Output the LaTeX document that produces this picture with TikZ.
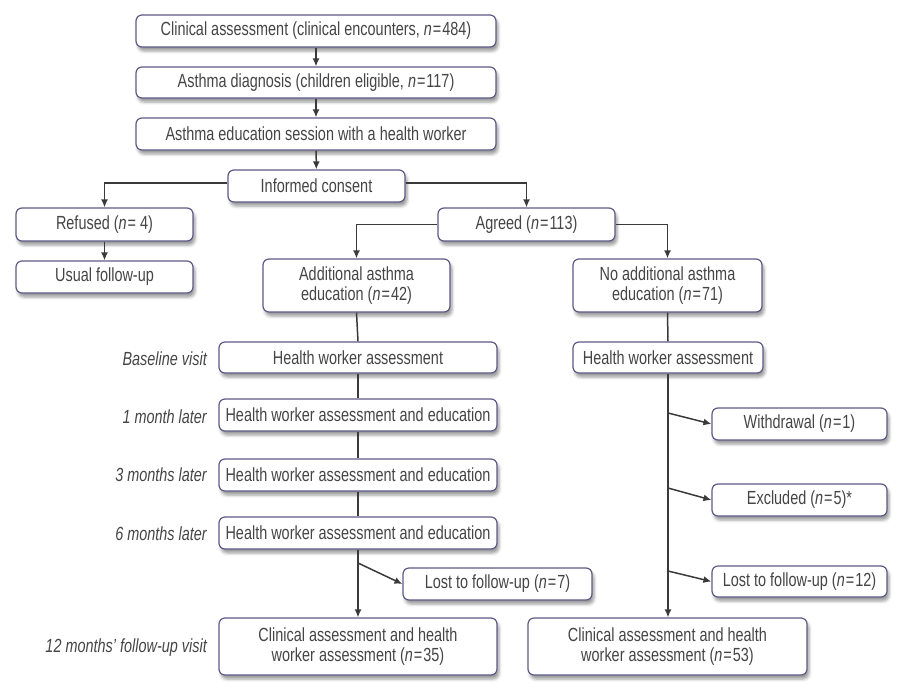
\documentclass[tikz,border=0pt]{standalone}
\usepackage{fontspec}
\setmainfont[FakeStretch=0.76]{Liberation Sans}
\usetikzlibrary{arrows.meta,shadows.blur}
\definecolor{boxline}{HTML}{5D5A88}
\definecolor{txt}{HTML}{454545}
\definecolor{conn}{HTML}{3A3A3A}
\newcommand{\eqn}[1]{\textit{n}\kern1pt=\kern1pt#1}
\begin{document}
\begin{tikzpicture}[x=1pt,y=-1pt,
  font=\fontsize{19}{21}\selectfont, text=txt,
  box/.style={draw=boxline, line width=1.2pt, rounded corners=6pt, fill=white,
    inner sep=0pt, align=center,
    blur shadow={shadow xshift=2pt, shadow yshift=-4pt, shadow blur radius=3pt, shadow opacity=40}},
  lab/.style={anchor=east, inner sep=0pt, font=\fontsize{19}{21}\selectfont\itshape},
  ln/.style={draw=conn, line width=1.5pt},
  arr/.style={ln, -{Latex[length=8pt,width=7pt]}}]
\useasboundingbox (0,0) rectangle (904,688);

% top chain
\node[box, minimum width=360pt, minimum height=32pt] (b1) at (316,31) {Clinical assessment (clinical encounters, \eqn{484})};
\node[box, minimum width=360pt, minimum height=31pt] (b2) at (316,82.5) {Asthma diagnosis (children eligible, \eqn{117})};
\node[box, minimum width=360pt, minimum height=32pt] (b3) at (316,134) {Asthma education session with a health worker};
\node[box, minimum width=177pt, minimum height=32pt] (b4) at (316.5,186) {Informed consent};

\node[box, minimum width=177pt, minimum height=33pt] (ref) at (104.5,224.5) {Refused (\textit{n}\kern1pt= 4)};
\node[box, minimum width=177pt, minimum height=32pt] (usu) at (104.5,277) {Usual follow-up};
\node[box, minimum width=177pt, minimum height=33pt] (agr) at (526.5,224.5) {Agreed (\eqn{113})};

\node[box, minimum width=187pt, minimum height=53pt] (add) at (356.5,285.5) {Additional asthma\\[-1pt]education (\eqn{42})};
\node[box, minimum width=189pt, minimum height=53pt] (nadd) at (667.5,285.5) {No additional asthma\\[-1pt]education (\eqn{71})};

% left column
\node[box, minimum width=278pt, minimum height=31pt] (hl) at (358,357.5) {Health worker assessment};
\node[box, minimum width=278pt, minimum height=32pt] (m1) at (358,415) {Health worker assessment and education};
\node[box, minimum width=278pt, minimum height=32pt] (m3) at (358,475) {Health worker assessment and education};
\node[box, minimum width=278pt, minimum height=32pt] (m6) at (358,533) {Health worker assessment and education};
\node[box, minimum width=189pt, minimum height=32pt] (l7) at (497.5,584) {Lost to follow-up (\eqn{7})};
\node[box, minimum width=278pt, minimum height=57pt] (cl) at (358,646.5) {Clinical assessment and health\\[-1pt]worker assessment (\eqn{35})};

% right column
\node[box, minimum width=190pt, minimum height=31pt] (hr) at (668,357.5) {Health worker assessment};
\node[box, minimum width=175pt, minimum height=32pt] (wd) at (799.5,424) {Withdrawal (\eqn{1})};
\node[box, minimum width=175pt, minimum height=32pt] (ex) at (799.5,500) {Excluded (\eqn{5})*};
\node[box, minimum width=175pt, minimum height=31pt] (l12) at (799.5,581.5) {Lost to follow-up (\eqn{12})};
\node[box, minimum width=279pt, minimum height=57pt] (cr) at (667.5,646.5) {Clinical assessment and health\\[-1pt]worker assessment (\eqn{53})};

% row labels
\node[lab] (t0) at (207,359) {Baseline visit};
\node[lab] (t1) at (207,417) {1 month later};
\node[lab] (t3) at (207,475) {3 months later};
\node[lab] (t6) at (207,534) {6 months later};
\node[lab] (t12) at (207,648) {12 months' follow-up visit};

% connectors
\draw[arr] (b1) -- (b2);
\draw[arr] (b2) -- (b3);
\draw[arr] (b3) -- (b4);
\draw[arr] ([yshift=3pt]b4.west) -| (ref.north);
\draw[arr] ([yshift=3pt]b4.east) -| (agr.north);
\draw[arr] (ref) -- (usu);
\draw[arr] (agr.west) -| (add.north);
\draw[arr] (agr.east) -| (nadd.north);

\draw[ln] (add.south) -- (hl.north);
\draw[ln] (hl.south) -- (m1.north);
\draw[ln] (m1.south) -- (m3.north);
\draw[ln] (m3.south) -- (m6.north);
\draw[arr] (m6.south) -- (cl.north);
\coordinate (s7) at ([yshift=21pt]m6.south |- l7.west);
\draw[arr] (s7) -- (l7.west);

\draw[ln] (nadd.south) -- (hr.north);
\draw[arr] (hr.south) -- (hr.south |- cr.north);
\coordinate (sw) at ([yshift=11pt]hr.south |- wd.west);
\coordinate (se) at ([yshift=12pt]hr.south |- ex.west);
\coordinate (sl) at ([yshift=10.5pt]hr.south |- l12.west);
\draw[arr] (sw) -- (wd.west);
\draw[arr] (se) -- (ex.west);
\draw[arr] (sl) -- (l12.west);
\end{tikzpicture}
\end{document}
